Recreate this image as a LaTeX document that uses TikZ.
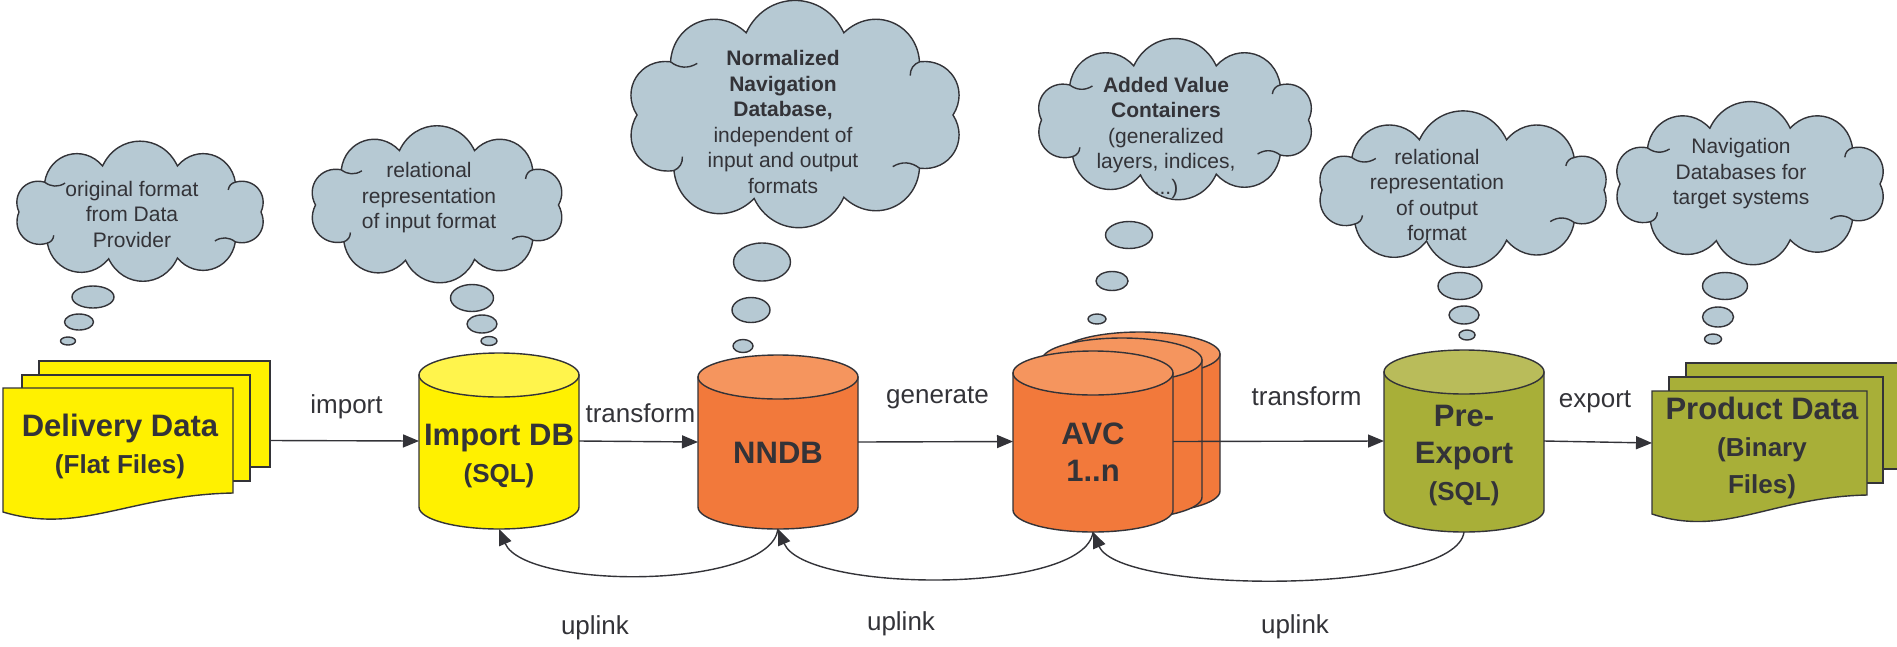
\documentclass[tikz,border=0pt]{standalone}
\usepackage{fontspec}
\setmainfont{Liberation Sans}
\usetikzlibrary{arrows.meta}

\definecolor{ink}{HTML}{333338}
\definecolor{dbyellow}{HTML}{FFF100}
\definecolor{dbyellowtop}{HTML}{FFF44C}
\definecolor{dborange}{HTML}{F2793B}
\definecolor{dborangetop}{HTML}{F5955E}
\definecolor{dbolive}{HTML}{A8AF38}
\definecolor{dbolivetop}{HTML}{B9BC5A}
\definecolor{thought}{HTML}{B6C9D3}

% database cylinder: centre x, top centre y, bottom centre y, body, top
\newcommand{\dbcyl}[5]{%
  \filldraw[draw=ink, line width=1.4pt, fill=#4] (#1-80,#2) -- (#1-80,#3)
    arc[start angle=180, end angle=0, x radius=80, y radius=22] -- (#1+80,#2) -- cycle;
  \filldraw[draw=ink, line width=1.4pt, fill=#5] (#1,#2) ellipse [x radius=80, y radius=22];
}

% thought cloud: name, centre x, centre y, width, height
\newcommand{\thoughtcloud}[5]{%
  \pgfmathsetmacro{\cloudA}{#4/2-5}
  \pgfmathsetmacro{\cloudB}{(#5/2-0.19*\cloudA)/0.96}
  \filldraw[draw=ink, line width=1.4pt, fill=thought] ({#2+\cloudA},#3)
    \foreach \t in {38,72,105,140,180,218,252,288,322,360}
      { to[bend left=65, looseness=1.25] ({#2+\cloudA*cos(\t)},{#3+\cloudB*sin(\t)}) } -- cycle;
  \foreach \t in {38,140,218,322}
    \draw[draw=ink, line width=1.4pt] ({#2+\cloudA*cos(\t)},{#3+\cloudB*sin(\t)})
      to[bend right=35] ({#2+0.86*\cloudA*cos(\t+6)},{#3+0.86*\cloudB*sin(\t+6)});
  \node[hitbox, minimum width=#4pt, minimum height=#5pt] (#1) at (#2,#3) {};
}

\tikzset{
  bubble/.style={draw=ink, line width=1.4pt, fill=thought},
  page/.style={draw=ink, line width=1.4pt},
  hitbox/.style={inner sep=0pt, outer sep=0pt},
  flow/.style={draw=ink, line width=1.4pt, -{Triangle[length=16pt, width=13pt]}},
  lbl/.style={font=\fontsize{26}{30}\selectfont, text=ink, inner sep=0pt},
  cloudtxt/.style={font=\fontsize{21}{25.5}\selectfont, text=ink, align=center, inner sep=0pt},
  dbtxt/.style={font=\fontsize{31}{37}\selectfont\bfseries, text=ink, align=center, inner sep=0pt},
}
\newcommand{\subln}[1]{{\fontsize{26}{32}\selectfont #1}}

\begin{document}
\begin{tikzpicture}[x=1pt, y=-1pt]
    \useasboundingbox (0,0) rectangle (1897,646);
    \clip (0,0) rectangle (1897,646);

    % thought clouds
    \thoughtcloud{c1}{140}{212}{252}{139}
    \thoughtcloud{c2}{437}{205}{253}{156}
    \thoughtcloud{c3}{795}{115}{326}{226}
    \thoughtcloud{c4}{1175}{120}{277}{160}
    \thoughtcloud{c5}{1463}{190}{292}{155}
    \thoughtcloud{c6}{1750}{184}{270}{162}

    \foreach \bx/\by/\rx/\ry in {93/297/21/11, 79/322/14.5/8, 68/341/7.5/4,
        472/298/21.5/13.5, 482/324/15/9, 489/341/8/4.5,
        762/262/28.5/19, 751/310/19/12.5, 743/346/10/6.5,
        1129/235/23.5/13.5, 1112/281/16/9.5, 1097/319/9/5,
        1460/286/22/13.5, 1464/315/15/9, 1467/335/8/5,
        1725/286/22.5/13.5, 1718/317/15.5/10, 1713/339/8.5/5}
      \filldraw[bubble] (\bx,\by) ellipse [x radius=\rx, y radius=\ry];

    \node[cloudtxt] (t1) at (132,214) {original format\\from Data\\Provider};
    \node[cloudtxt] (t2) at (429,198) {relational\\representation\\of input format};
    \node[cloudtxt] (t3) at (783,122) {\textbf{Normalized}\\\textbf{Navigation}\\\textbf{Database,}\\independent of\\input and output\\formats};
    \node[cloudtxt] (t4) at (1166,138) {\textbf{Added Value}\\\textbf{Containers}\\(generalized\\layers, indices,\\...)};
    \node[cloudtxt] (t5) at (1437,195) {relational\\representation\\of output\\format};
    \node[cloudtxt] (t6) at (1741,174) {Navigation\\Databases for\\target systems};

    % delivery data pages
    \filldraw[page, fill=dbyellow] (39,361) rectangle (270,467);
    \filldraw[page, fill=dbyellow] (22,375) rectangle (250,481);
    \filldraw[page, fill=dbyellow] (3,388) -- (233,388) -- (233,493)
      .. controls (130,495) and (80,535) .. (3,512) -- cycle;
    \node[hitbox, minimum width=267pt, minimum height=159pt] (deliv) at (136.5,440.5) {};
    \node[dbtxt] (delivtxt) at (120,446) {Delivery Data\\\subln{(Flat Files)}};

    % product data pages
    \filldraw[page, fill=dbolive] (1686,363) rectangle (1905,469);
    \filldraw[page, fill=dbolive] (1669,377) rectangle (1883,483);
    \filldraw[page, fill=dbolive] (1652,391) -- (1867,391) -- (1867,495)
      .. controls (1772,497) and (1724,538) .. (1652,514) -- cycle;
    \node[hitbox, minimum width=253pt, minimum height=160pt] (prod) at (1778.5,443) {};
    \node[dbtxt] (prodtxt) at (1762,447.5) {Product Data\\\subln{(Binary}\\\subln{Files)}};

    % databases
    \dbcyl{499}{375}{507}{dbyellow}{dbyellowtop}
    \node[hitbox, minimum width=160pt, minimum height=176pt] (imp) at (499,441) {};
    \node[dbtxt] (imptxt) at (499,456) {Import DB\\\subln{(SQL)}};

    \dbcyl{778}{377}{507}{dborange}{dborangetop}
    \node[hitbox, minimum width=160pt, minimum height=174pt] (nndb) at (778,442) {};
    \node[dbtxt] (nndbtxt) at (778,453) {NNDB};

    \dbcyl{1140}{354}{491}{dborange}{dborangetop}
    \dbcyl{1122}{360}{497}{dborange}{dborangetop}
    \dbcyl{1093}{373}{510}{dborange}{dborangetop}
    \node[hitbox, minimum width=160pt, minimum height=181pt] (avc) at (1093,441.5) {};
    \node[dbtxt] (avctxt) at (1093,452.5) {AVC\\1..n};

    \dbcyl{1464}{372}{510}{dbolive}{dbolivetop}
    \node[hitbox, minimum width=160pt, minimum height=182pt] (pre) at (1464,441) {};
    \node[dbtxt] (pretxt) at (1464,455.5) {Pre-\\Export\\\subln{(SQL)}};

    % data flow
    \draw[flow] (deliv.east) -- node[lbl, midway, xshift=2pt, yshift=34pt] {import} (imp.west);
    \draw[flow] (imp.east) -- node[lbl, midway, xshift=2pt, yshift=28pt] {transform} (nndb.west);
    \draw[flow] (nndb.east) -- node[lbl, midway, xshift=2pt, yshift=44pt] {generate} (avc.west);
    \draw[flow] (avc.east) -- node[lbl, midway, xshift=28pt, yshift=45pt] {transform} (pre.west);
    \draw[flow] (pre.east) -- node[lbl, midway, xshift=-3pt, yshift=40pt] {export} (prod.west);

    % uplinks
    \draw[flow] (nndb.south) .. controls +(-8,61) and +(26,61) .. (imp.south);
    \draw[flow] (avc.south) .. controls +(-8,63) and +(27,64) .. (nndb.south);
    \draw[flow] (pre.south) .. controls +(-8,63) and +(27,63) .. (avc.south);
    \node[lbl] (up1) at (595,628) {uplink};
    \node[lbl] (up2) at (901,624) {uplink};
    \node[lbl] (up3) at (1295,627) {uplink};
\end{tikzpicture}
\end{document}
